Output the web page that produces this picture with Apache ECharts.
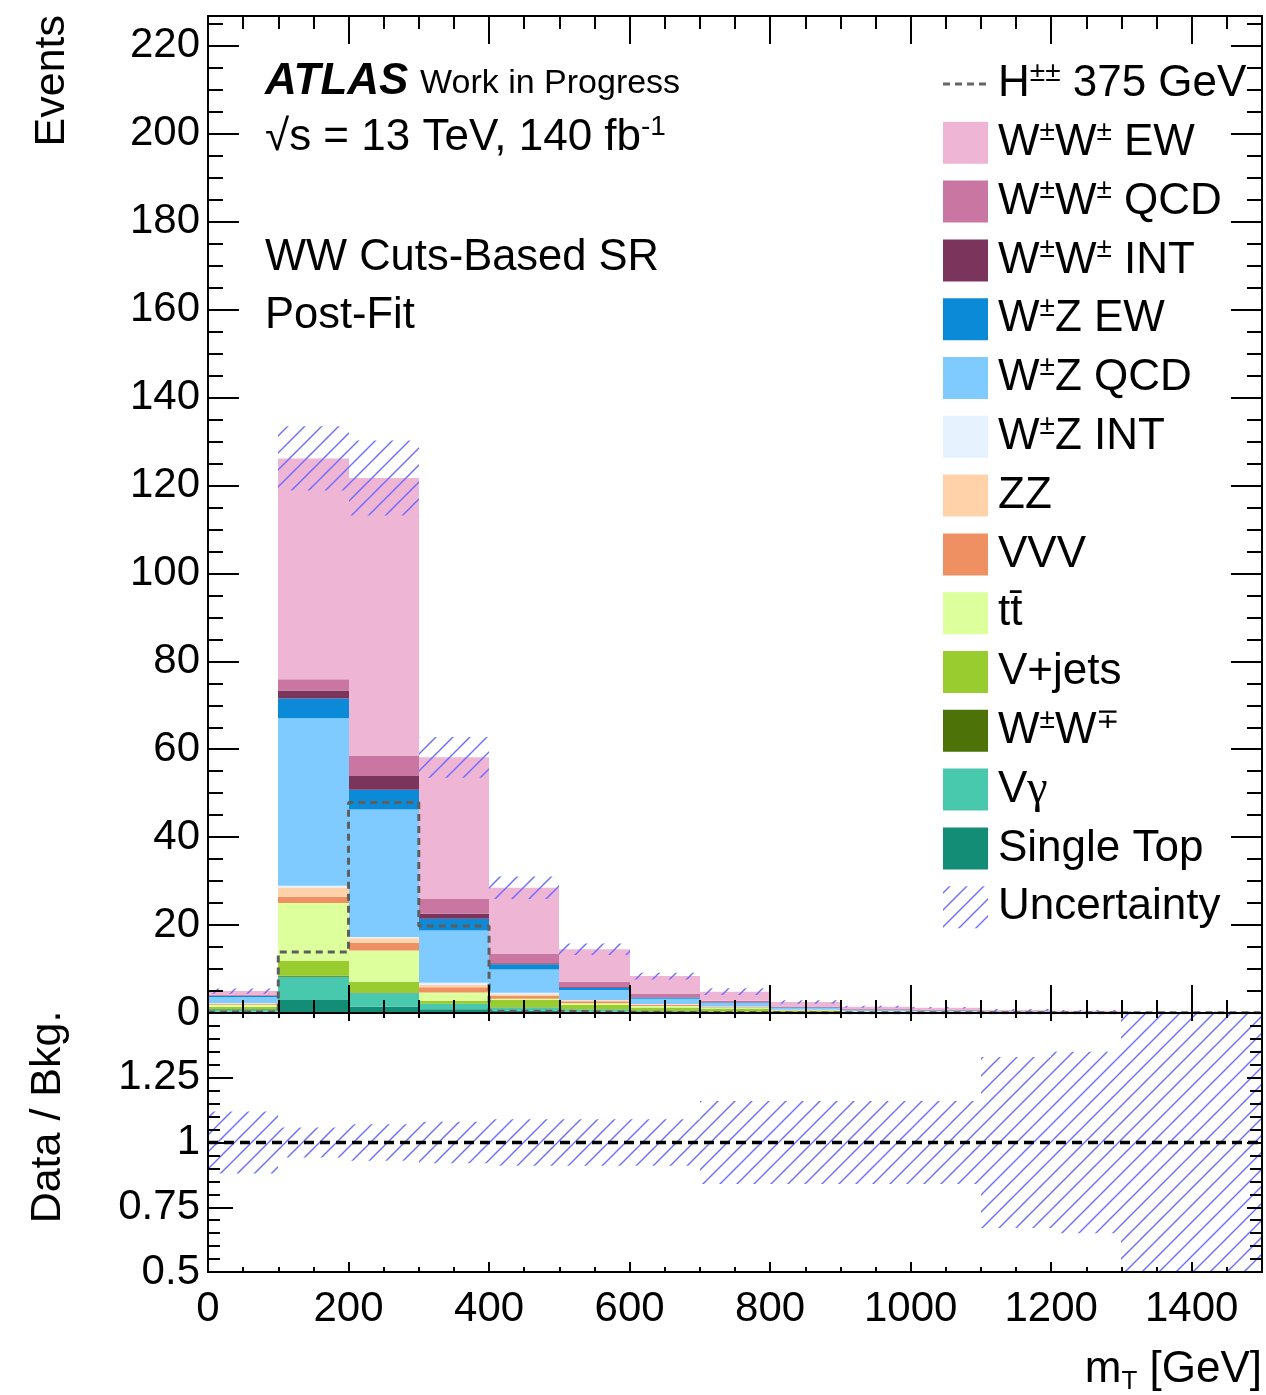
<!DOCTYPE html>
<html>
<head>
<meta charset="utf-8">
<script src="https://cdn.jsdelivr.net/npm/echarts@6/dist/echarts.min.js"></script>
<style>
  html, body { margin: 0; padding: 0; background: #fff; }
  #chart { width: 1266px; height: 1395px; }
</style>
</head>
<body>
<div id="chart"></div>
<script>
// m_T bin edges [GeV]
const binEdges = [0, 100, 200, 300, 400, 500, 600, 700, 800, 900, 1000, 1100, 1200, 1300, 1500];

// post-fit yields per bin, stacked bottom -> top
const singleTop = [0.3, 2.95, 1.4, 0.83, 0.5, 0.3, 0.15, 0.1, 0.05, 0.03, 0.02, 0.01, 0.01, 0.005];
const vGamma = [0.5, 5.3, 3.1, 1.2, 0.75, 0.5, 0.25, 0.15, 0.08, 0.05, 0.04, 0.02, 0.01, 0.005];
const wwOS = [0.1, 0.2, 0.15, 0.1, 0.05, 0.05, 0.05, 0.03, 0.02, 0.01, 0.01, 0.01, 0.005, 0.002];
const vJets = [0.5, 3.4, 2.4, 0.68, 1.65, 0.95, 0.8, 0.75, 0.35, 0.2, 0.15, 0.08, 0.05, 0.02];
const ttbar = [0.5, 13.2, 7.15, 1.87, 0.3, 0.4, 0.35, 0.2, 0.1, 0.05, 0.04, 0.02, 0.01, 0.005];
const vvv = [0.2, 1.4, 1.8, 1.2, 0.7, 0.5, 0.25, 0.15, 0.08, 0.05, 0.04, 0.02, 0.02, 0.008];
const zz = [0.1, 2.1, 1.0, 0.53, 0.3, 0.2, 0.15, 0.1, 0.05, 0.03, 0.02, 0.01, 0.01, 0.005];
const wzInt = [0.05, 0.4, 0.3, 0.45, 0.35, 0.05, 0.05, 0.02, 0.02, 0.01, 0.01, 0.005, 0.005, 0.002];
const wzQcd = [1.4, 38.1, 29.0, 11.9, 5.3, 2.3, 1.2, 0.75, 0.4, 0.25, 0.2, 0.12, 0.09, 0.04];
const wzEw = [0.2, 4.5, 4.5, 2.7, 1.2, 0.5, 0.25, 0.15, 0.1, 0.06, 0.05, 0.03, 0.02, 0.008];
const wwInt = [0.05, 1.8, 3.1, 1.1, 0.2, 0.15, 0.1, 0.05, 0.03, 0.02, 0.02, 0.01, 0.01, 0.004];
const wwQcd = [0.2, 2.6, 4.7, 3.4, 2.25, 1.2, 0.85, 0.35, 0.22, 0.13, 0.1, 0.06, 0.04, 0.016];
const wwEw = [0.9, 50.2, 63.1, 32.2, 14.95, 7.4, 3.95, 2.05, 1.0, 0.55, 0.5, 0.29, 0.22, 0.08];

// H++ 375 GeV signal (dashed outline)
const signal = [0.2, 13.9, 47.9, 19.8, 0.4, 0.2, 0.1, 0.1, 0.05, 0.05, 0.05, 0.05, 0.05, 0.05];

// relative total uncertainty per bin
const relUnc = [0.12, 0.058, 0.07, 0.08, 0.09, 0.09, 0.09, 0.16, 0.16, 0.16, 0.16, 0.33, 0.35, 0.6];

const FONT = 'Liberation Sans';

const processes = [
  { name: 'Single Top', color: '#138d75', values: singleTop },
  { name: 'Vγ', color: '#48c9ae', values: vGamma },
  { name: 'W±W∓', color: '#4d7308', values: wwOS },
  { name: 'V+jets', color: '#99cc2e', values: vJets },
  { name: 'tt̄', color: '#ddff9c', values: ttbar },
  { name: 'VVV', color: '#ef9063', values: vvv },
  { name: 'ZZ', color: '#ffd2aa', values: zz },
  { name: 'W±Z INT', color: '#e6f2fd', values: wzInt },
  { name: 'W±Z QCD', color: '#7fcbff', values: wzQcd },
  { name: 'W±Z EW', color: '#0b8ad8', values: wzEw },
  { name: 'W±W± INT', color: '#7b355d', values: wwInt },
  { name: 'W±W± QCD', color: '#c976a2', values: wwQcd },
  { name: 'W±W± EW', color: '#eeb5d5', values: wwEw }
];

function makeHatch() {
  const s = 17;
  const c = document.createElement('canvas');
  c.width = s;
  c.height = s;
  const ctx = c.getContext('2d');
  ctx.strokeStyle = '#6b6bff';
  ctx.lineWidth = 1.4;
  ctx.beginPath();
  ctx.moveTo(0, s); ctx.lineTo(s, 0);
  ctx.moveTo(-2, 2); ctx.lineTo(2, -2);
  ctx.moveTo(s - 2, s + 2); ctx.lineTo(s + 2, s - 2);
  ctx.stroke();
  return c;
}
const hatchFill = { image: makeHatch(), repeat: 'repeat' };

function rectItem(fill) {
  return function (params, api) {
    const p0 = api.coord([api.value(0), api.value(3)]);
    const p1 = api.coord([api.value(1), api.value(2)]);
    // snap horizontal edges so neighbouring bins do not leave seams
    const x0 = Math.round(p0[0]);
    const x1 = Math.round(p1[0]);
    return {
      type: 'rect',
      shape: { x: x0, y: p0[1], width: x1 - x0, height: p1[1] - p0[1] },
      style: { fill: fill }
    };
  };
}

// stacked histogram series
const cumulative = binEdges.slice(1).map(() => 0);
const stackSeries = processes.map(proc => {
  const data = proc.values.map((v, i) => {
    const base = cumulative[i];
    cumulative[i] += v;
    return [binEdges[i], binEdges[i + 1], base, base + v];
  });
  return {
    name: proc.name,
    type: 'custom',
    xAxisIndex: 0,
    yAxisIndex: 0,
    renderItem: rectItem(proc.color),
    encode: { x: [0, 1], y: [2, 3] },
    data: data,
    z: 2
  };
});

const totals = cumulative.slice();
const uncData = totals.map((t, i) => [binEdges[i], binEdges[i + 1], t * (1 - relUnc[i]), t * (1 + relUnc[i])]);
const ratioData = relUnc.map((u, i) => [binEdges[i], binEdges[i + 1], Math.max(0.5, 1 - u), Math.min(1.5, 1 + u)]);

const signalData = signal.map((v, i) => [binEdges[i], v]);
signalData.push([binEdges[binEdges.length - 1], signal[signal.length - 1]]);

const yMax = 226.8;

function xAxisCfg(gridIndex, position, showLabel, major, minor) {
  return {
    type: 'value',
    gridIndex: gridIndex,
    position: position,
    min: 0,
    max: 1500,
    interval: 200,
    z: 10,
    axisLine: { show: true, onZero: false, lineStyle: { color: '#000', width: 2 } },
    axisTick: { show: true, inside: true, length: major, lineStyle: { color: '#000', width: 2 } },
    minorTick: { show: true, splitNumber: 4, length: minor, lineStyle: { color: '#000', width: 2 } },
    splitLine: { show: false },
    axisLabel: {
      show: showLabel, color: '#000', fontSize: 42, fontFamily: FONT, margin: 16,
      showMaxLabel: false,
      formatter: v => String(v)
    }
  };
}

function yAxisCfg(gridIndex, position, showLabel, min, max, interval, split, major, minor) {
  return {
    type: 'value',
    gridIndex: gridIndex,
    position: position,
    min: min,
    max: max,
    interval: interval,
    z: 10,
    axisLine: { show: true, onZero: false, lineStyle: { color: '#000', width: 2 } },
    axisTick: { show: true, inside: true, length: major, lineStyle: { color: '#000', width: 2 } },
    minorTick: { show: true, splitNumber: split, length: minor, lineStyle: { color: '#000', width: 2 } },
    splitLine: { show: false },
    axisLabel: {
      show: showLabel, color: '#000', fontSize: 42, fontFamily: FONT, margin: 8,
      showMaxLabel: false
    }
  };
}

const rich = {
  n: { fontSize: 44, fontFamily: FONT, lineHeight: 50, color: '#000' },
  s: { fontSize: 28, fontFamily: FONT, lineHeight: 26, verticalAlign: 'top', color: '#000' },
  b: { fontSize: 26, fontFamily: FONT, lineHeight: 26, verticalAlign: 'bottom', color: '#000' },
  g: { fontSize: 46, fontFamily: 'Liberation Serif', lineHeight: 50, color: '#000' }
};

const legendRows = [
  { text: '{n|H}{s|±±}{n| 375 GeV}', kind: 'line' },
  { text: '{n|W}{s|±}{n|W}{s|±}{n| EW}', color: '#eeb5d5' },
  { text: '{n|W}{s|±}{n|W}{s|±}{n| QCD}', color: '#c976a2' },
  { text: '{n|W}{s|±}{n|W}{s|±}{n| INT}', color: '#7b355d' },
  { text: '{n|W}{s|±}{n|Z EW}', color: '#0b8ad8' },
  { text: '{n|W}{s|±}{n|Z QCD}', color: '#7fcbff' },
  { text: '{n|W}{s|±}{n|Z INT}', color: '#e6f2fd' },
  { text: '{n|ZZ}', color: '#ffd2aa' },
  { text: '{n|VVV}', color: '#ef9063' },
  { text: '{n|tt̄}', color: '#ddff9c' },
  { text: '{n|V+jets}', color: '#99cc2e' },
  { text: '{n|W}{s|±}{n|W}{s|∓}', color: '#4d7308' },
  { text: '{n|V}{g|γ}', color: '#48c9ae' },
  { text: '{n|Single Top}', color: '#138d75' },
  { text: '{n|Uncertainty}', kind: 'hatch' }
];

const graphics = [];
legendRows.forEach((row, i) => {
  const cy = 84 + 58.8 * i;
  if (row.kind === 'line') {
    graphics.push({
      type: 'line', z: 100,
      shape: { x1: 943, y1: cy, x2: 988, y2: cy },
      style: { stroke: '#666', lineWidth: 3, lineDash: [7, 5] }
    });
  } else {
    graphics.push({
      type: 'rect', z: 100,
      shape: { x: 943, y: cy - 21, width: 45, height: 42 },
      style: { fill: row.kind === 'hatch' ? hatchFill : row.color }
    });
  }
  graphics.push({
    type: 'text', z: 100, x: 998, y: cy,
    style: { text: row.text, rich: rich, align: 'left', verticalAlign: 'middle' }
  });
});

graphics.push(
  {
    type: 'text', z: 100, x: 265, y: 82,
    style: { text: 'ATLAS', font: 'italic bold 44px ' + FONT, fill: '#000', align: 'left', verticalAlign: 'middle' }
  },
  {
    type: 'text', z: 100, x: 420, y: 84,
    style: { text: 'Work in Progress', font: '34px ' + FONT, fill: '#000', align: 'left', verticalAlign: 'middle' }
  },
  {
    type: 'text', z: 100, x: 265, y: 138,
    style: { text: '{n|√s = 13 TeV, 140 fb}{s|-1}', rich: rich, align: 'left', verticalAlign: 'middle' }
  },
  {
    type: 'text', z: 100, x: 265, y: 258,
    style: { text: 'WW Cuts-Based SR', font: '43.5px ' + FONT, fill: '#000', align: 'left', verticalAlign: 'middle' }
  },
  {
    type: 'text', z: 100, x: 265, y: 316,
    style: { text: 'Post-Fit', font: '43.5px ' + FONT, fill: '#000', align: 'left', verticalAlign: 'middle' }
  },
  {
    type: 'text', z: 100, x: 52, y: 15, rotation: Math.PI / 2,
    style: { text: 'Events', font: '43px ' + FONT, fill: '#000', align: 'right', verticalAlign: 'middle' }
  },
  {
    type: 'text', z: 100, x: 48, y: 1117, rotation: Math.PI / 2,
    style: { text: 'Data / Bkg.', font: '43px ' + FONT, fill: '#000', align: 'center', verticalAlign: 'middle' }
  },
  {
    type: 'text', z: 100, x: 1262, y: 1370,
    style: { text: '{n|m}{b|T}{n| [GeV]}', rich: rich, align: 'right', verticalAlign: 'middle' }
  }
);

const chart = echarts.init(document.getElementById('chart'), null, { renderer: 'canvas' });

chart.setOption({
  animation: false,
  backgroundColor: '#fff',
  grid: [
    { left: 208, top: 16, width: 1054, height: 997 },
    { left: 208, top: 1013, width: 1054, height: 259 }
  ],
  xAxis: [
    xAxisCfg(0, 'bottom', false, 28, 13),
    xAxisCfg(0, 'top', false, 28, 13),
    xAxisCfg(1, 'bottom', true, 10, 5),
    xAxisCfg(1, 'top', false, 8, 5)
  ],
  yAxis: [
    yAxisCfg(0, 'left', true, 0, yMax, 20, 4, 31, 15),
    yAxisCfg(0, 'right', false, 0, yMax, 20, 4, 31, 15),
    yAxisCfg(1, 'left', true, 0.5, 1.5, 0.25, 5, 25, 12),
    yAxisCfg(1, 'right', false, 0.5, 1.5, 0.25, 5, 15, 12)
  ],
  graphic: graphics,
  series: [
    ...stackSeries,
    {
      name: 'H±± 375 GeV',
      type: 'line',
      xAxisIndex: 0,
      yAxisIndex: 0,
      step: 'end',
      symbol: 'none',
      lineStyle: { color: '#5e5e5e', width: 3, type: [7, 5] },
      data: signalData,
      z: 4
    },
    {
      name: 'Uncertainty',
      type: 'custom',
      xAxisIndex: 0,
      yAxisIndex: 0,
      renderItem: rectItem(hatchFill),
      encode: { x: [0, 1], y: [2, 3] },
      data: uncData,
      z: 5
    },
    {
      name: 'Ratio uncertainty',
      type: 'custom',
      xAxisIndex: 2,
      yAxisIndex: 2,
      clip: true,
      renderItem: rectItem(hatchFill),
      encode: { x: [0, 1], y: [2, 3] },
      data: ratioData,
      z: 5
    },
    {
      name: 'Unity',
      type: 'line',
      xAxisIndex: 2,
      yAxisIndex: 2,
      symbol: 'none',
      lineStyle: { color: '#000', width: 3.5, type: [10, 6] },
      data: [[0, 1], [1500, 1]],
      z: 6
    }
  ]
});
</script>
</body>
</html>
